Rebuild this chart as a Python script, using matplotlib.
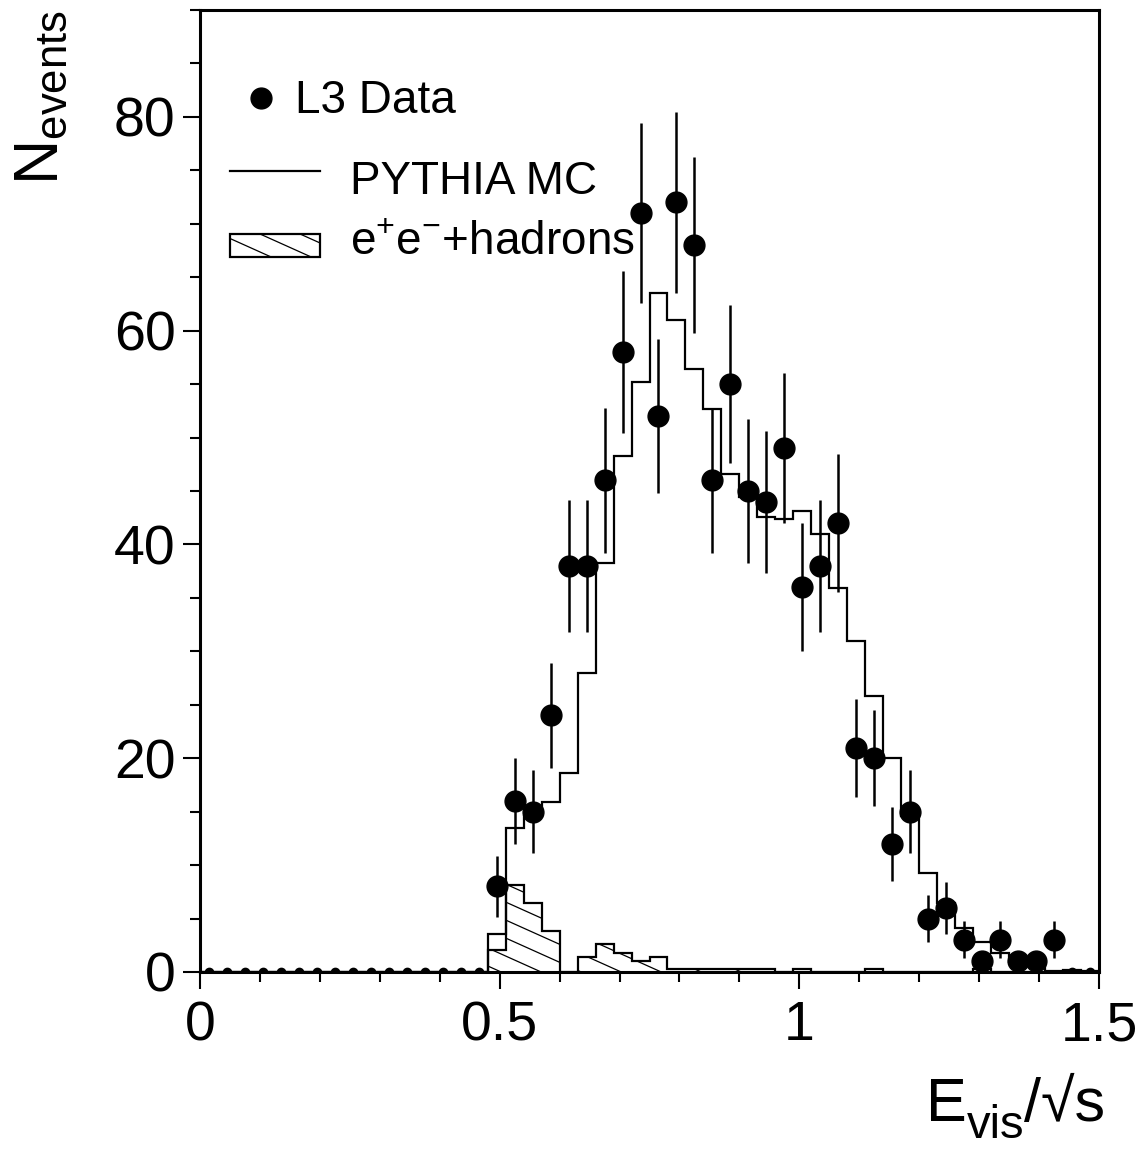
import numpy as np
import matplotlib
matplotlib.use("Agg")
import matplotlib.pyplot as plt
from matplotlib.collections import LineCollection
from matplotlib.patches import Rectangle

plt.rcParams['font.family'] = ['Liberation Sans', 'DejaVu Sans']
plt.rcParams['mathtext.fontset'] = 'custom'
plt.rcParams['mathtext.rm'] = 'Liberation Sans'
plt.rcParams['mathtext.it'] = 'Liberation Sans:italic'
plt.rcParams['mathtext.bf'] = 'Liberation Sans:bold'

# binning of E_vis/sqrt(s): 50 bins of 0.03
edges = np.linspace(0.0, 1.5, 51)
centers = 0.5 * (edges[:-1] + edges[1:])

# L3 data counts per bin
data_counts = np.array([0] * 16 + [
    8, 16, 15, 24, 38, 38, 46, 58, 71, 52,
    72, 68, 46, 55, 45, 44, 49, 36, 38, 42,
    21, 20, 12, 15, 5, 6, 3, 1, 3, 1,
    1, 3] + [0, 0], dtype=float)

# PYTHIA MC (total)
mc_counts = np.array([0] * 16 + [
    3.6, 13.5, 14.6, 15.9, 18.6, 28.0, 38.3, 48.3, 55.2, 63.5,
    61.0, 56.4, 52.7, 46.6, 44.4, 42.6, 42.4, 43.1, 41.0, 35.9,
    31.0, 25.8, 20.0, 14.6, 9.3, 6.5, 4.1, 2.8, 1.8, 0.9,
    0.9, 0.1, 0.15, 0.1])

# e+e- + hadrons background
bkg_counts = np.array([0] * 16 + [
    2.1, 8.1, 6.5, 3.8, 0.0, 1.4, 2.6, 1.8, 1.0, 1.4,
    0.3, 0.3, 0.3, 0.3, 0.3, 0.3, 0.0, 0.3, 0.0, 0.0,
    0.0, 0.3, 0.0, 0.0, 0.0, 0.0, 0.0, 0.3, 0.0, 0.0,
    0.0, 0.0, 0.0, 0.0])


def add_hatch(ax, patch, spacing=0.0187, slope=-0.42, lw=0.9):
    # sparse "\" hatching clipped to a patch
    cs = np.arange(-1.0, 2.0, spacing)
    segs = [[(0.0, c), (1.0, c + slope)] for c in cs]
    lc = LineCollection(segs, colors='k', linewidths=lw, transform=ax.transAxes)
    ax.add_collection(lc, autolim=False)
    lc.set_clip_path(patch.get_path(), patch.get_transform())


W, H = 1146, 1149
fig = plt.figure(figsize=(W / 100, H / 100), dpi=100)
ax = fig.add_axes([200 / W, (H - 972) / H, 899 / W, 962 / H])

ax.set_xlim(0, 1.5)
ax.set_ylim(0, 90)

# background histogram with hatching
bkg_patch = ax.stairs(bkg_counts, edges, fill=True, facecolor='none',
                      edgecolor='none', baseline=0)
add_hatch(ax, bkg_patch)
ax.stairs(bkg_counts, edges, color='k', lw=1.6, baseline=0)

# MC histogram
ax.stairs(mc_counts, edges, color='k', lw=1.6, baseline=0)

# data
nz = data_counts > 0
ax.errorbar(centers[nz], data_counts[nz], yerr=np.sqrt(data_counts[nz]),
            fmt='o', ms=15, color='k', elinewidth=1.8, capsize=0, zorder=5)
ax.plot(centers[~nz], data_counts[~nz], 'o', ms=6, color='k', zorder=5)

ax.set_xticks([0, 0.5, 1, 1.5])
ax.set_xticklabels(['0', '0.5', '1', '1.5'])
ax.set_xticks(np.arange(0, 1.51, 0.1), minor=True)
ax.set_yticks([0, 20, 40, 60, 80])
ax.set_yticks(np.arange(0, 90.1, 5), minor=True)
ax.tick_params(which='both', direction='out', top=False, right=False,
               width=1.5, labelsize=40)
ax.tick_params(which='major', length=12.5)
ax.tick_params(which='minor', length=7)
ax.tick_params(axis='x', which='major', pad=8)
ax.tick_params(axis='y', which='major', pad=5)
for sp in ax.spines.values():
    sp.set_linewidth(2.2)

# x title built from pieces so the subscript can be larger than mathtext's
renderer = fig.canvas.get_renderer()
x_px, base_px = 926, 1121
t = fig.text(x_px / W, 1 - base_px / H, 'E', fontsize=44, va='baseline')
x_px = t.get_window_extent(renderer).x1
t = fig.text(x_px / W, 1 - (base_px + 17) / H, 'vis', fontsize=34, va='baseline')
x_px = t.get_window_extent(renderer).x1
fig.text(x_px / W, 1 - base_px / H, '/√s', fontsize=44, va='baseline')

fig.text(12 / W, 1 - 10 / H, r'N$_{\mathrm{events}}$', fontsize=45,
         rotation=90, ha='left', va='top')

# legend (drawn by hand)
def axx(px):
    return (px - 200) / 899


def axy(py):
    return (972 - py) / 962


ax.plot([axx(261)], [axy(98)], 'o', ms=15, color='k', transform=ax.transAxes,
        clip_on=False)
ax.text(axx(295), axy(113), 'L3 Data', fontsize=33, transform=ax.transAxes,
        va='baseline', ha='left')
ax.plot([axx(230), axx(320)], [axy(171), axy(171)], color='k', lw=1.6,
        transform=ax.transAxes)
ax.text(axx(350), axy(194), 'PYTHIA MC', fontsize=33, transform=ax.transAxes,
        va='baseline', ha='left')
box = Rectangle((axx(230), axy(257)), axx(320) - axx(230), axy(234) - axy(257),
                transform=ax.transAxes, facecolor='none', edgecolor='k', lw=1.6)
ax.add_patch(box)
add_hatch(ax, box)
ax.text(axx(350), axy(255), r'e$^{+}$e$^{\mathregular{-}}$+hadrons', fontsize=33,
        transform=ax.transAxes, va='baseline', ha='left')

fig.savefig('out.png', dpi=100)
